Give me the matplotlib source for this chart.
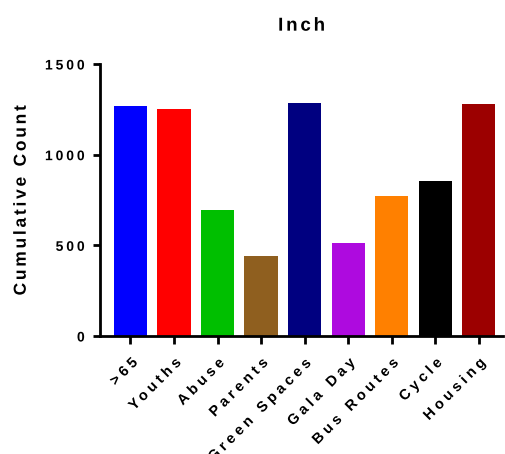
import matplotlib
matplotlib.use("Agg")
import numpy as np
import matplotlib.pyplot as plt
from matplotlib.patheffects import AbstractPathEffect
from matplotlib.path import Path
from matplotlib.textpath import TextToPath

categories = [">65", "Youths", "Abuse", "Parents", "Green Spaces", "Gala Day", "Bus Routes", "Cycle", "Housing"]
values = [1268, 1252, 695, 441, 1285, 513, 772, 855, 1280]
colors = ["#0000ff", "#ff0000", "#00bf00", "#8f5f1f", "#000080", "#ae0adf", "#ff8000", "#000000", "#9c0000"]
yticks = [0, 500, 1000, 1500]


class Tracking(AbstractPathEffect):
    """Adds letter spacing (in em) to a text drawn as a path."""
    def __init__(self, track, align='center'):
        super().__init__()
        self.track = track
        self.align = align

    def draw_path(self, renderer, gc, tpath, affine, rgbFace=None):
        codes = tpath.codes
        verts = np.array(tpath.vertices, dtype=float)
        if codes is None or len(verts) == 0:
            renderer.draw_path(gc, tpath, affine, rgbFace)
            return
        codes = np.asarray(codes)
        starts = np.where(codes == Path.MOVETO)[0]
        ends = list(starts[1:]) + [len(codes)]
        groups = []
        seg_group = []
        for s, e in zip(starts, ends):
            m = codes[s:e] != Path.CLOSEPOLY
            xs = verts[s:e][m, 0]
            if len(xs) == 0:
                seg_group.append(max(len(groups) - 1, 0))
                continue
            x0, x1 = xs.min(), xs.max()
            c = 0.5 * (x0 + x1)
            if groups and groups[-1][0] - 1 <= c <= groups[-1][1] + 1:
                groups[-1][0] = min(groups[-1][0], x0)
                groups[-1][1] = max(groups[-1][1], x1)
            else:
                groups.append([x0, x1])
            seg_group.append(len(groups) - 1)
        fs = TextToPath.FONT_SCALE
        # slot index per glyph (spaces count as an extra slot)
        slots = []
        k = 0
        for i, g in enumerate(groups):
            if i > 0:
                k += 1
                if g[0] - groups[i - 1][1] > 0.22 * fs:
                    k += 1
            slots.append(k)
        n_last = slots[-1] if slots else 0
        t = self.track * fs
        if self.align == 'right':
            off = -n_last
        elif self.align == 'center':
            off = -n_last / 2
        else:
            off = 0
        new = verts.copy()
        for (s, e), g in zip(zip(starts, ends), seg_group):
            new[s:e, 0] += t * (slots[g] + off)
        renderer.draw_path(gc, Path(new, codes), affine, rgbFace)


plt.rcParams['font.family'] = ['Liberation Sans', 'DejaVu Sans']
fig = plt.figure(figsize=(5.05, 4.54), dpi=100)
ax = fig.add_axes([100/505, 1-336/454, 403/505, (336-64)/454])
x = list(range(len(categories)))
ax.bar(x, values, width=0.76, color=colors, edgecolor='none')
ax.set_xlim(-0.7, 8.56)
ax.set_ylim(0, 1500)
ax.set_yticks(yticks)
ax.set_yticklabels([str(t) for t in yticks], fontsize=10, fontweight='bold')
ax.set_xticks(x)
ax.set_xticklabels(categories, rotation=45, ha='right', rotation_mode='anchor',
                   fontsize=10.5, fontweight='bold')
for s in ['top', 'right']:
    ax.spines[s].set_visible(False)
for s in ['left', 'bottom']:
    ax.spines[s].set_linewidth(2)
ax.tick_params(axis='y', width=2, length=5, direction='out', pad=6)
ax.tick_params(axis='x', width=2, length=6, direction='out', pad=8)
for lab in ax.get_yticklabels():
    lab.set_path_effects([Tracking(0.21, 'right')])
for lab in ax.get_xticklabels():
    lab.set_path_effects([Tracking(0.26, 'right')])
yl = ax.set_ylabel('Cumulative Count', fontsize=12.5, fontweight='bold', labelpad=18)
yl.set_path_effects([Tracking(0.16, 'center')])
tt = ax.set_title('Inch', fontsize=13.5, fontweight='bold', pad=24)
tt.set_path_effects([Tracking(0.15, 'center')])
fig.savefig('out.png', dpi=100)
